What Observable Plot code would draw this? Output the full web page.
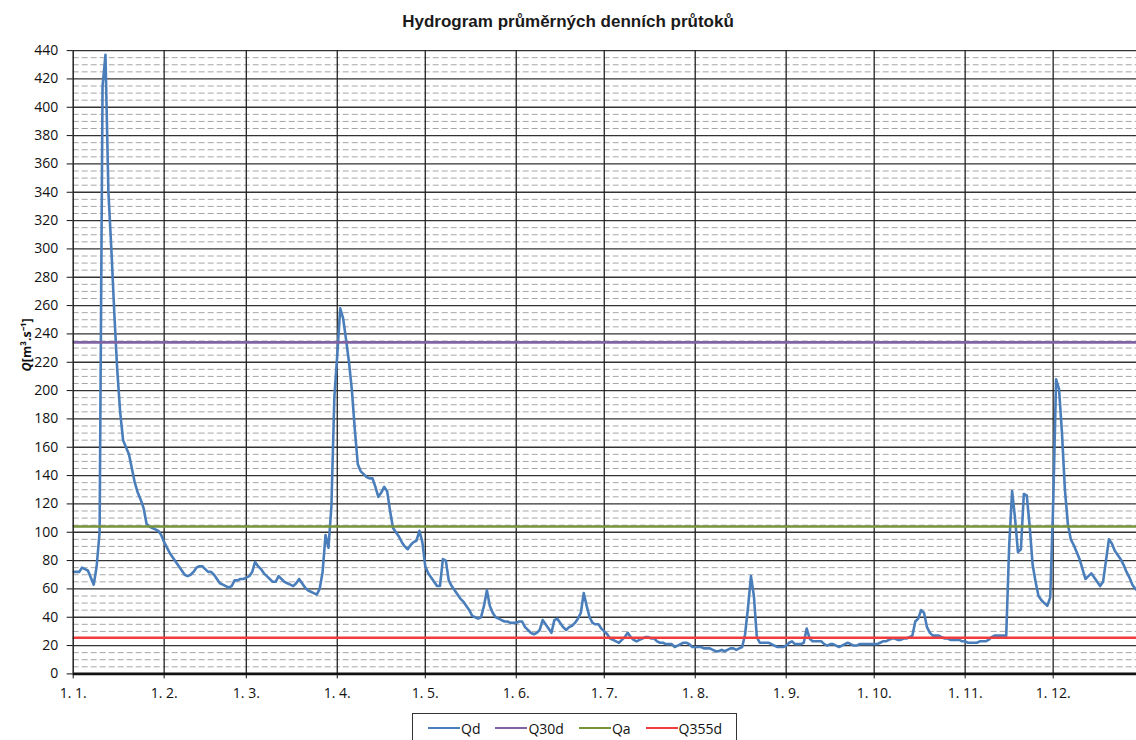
<!DOCTYPE html>
<html>
<head>
<meta charset="utf-8">
<script src="https://cdn.jsdelivr.net/npm/d3@7"></script>
<script src="https://cdn.jsdelivr.net/npm/@observablehq/plot@0.6"></script>
<style>
  html, body { margin: 0; padding: 0; background: #fff; overflow: hidden; }
  #wrap { width: 1136px; }
  #title { height: 40px; box-sizing: border-box; padding-top: 12px; text-align: center;
           font-family: "Liberation Sans", Arial, sans-serif; font-weight: bold; font-size: 17px;
           line-height: 20px; color: #1a1a1a; }
  #chart svg { display: block; }
  #legend { margin: 7px 0 0 412px; width: 325px; height: 30px; box-sizing: border-box;
            border: 1px solid #333; display: flex; align-items: center; padding-left: 15px;
            font-family: "Open Sans", sans-serif; font-size: 14px; color: #111; }
  .item { display: flex; align-items: center; margin-right: 15px; }
  .sw { width: 32px; height: 2.6px; margin-right: 1px; }
</style>
</head>
<body>
<div id="wrap">
  <div id="title">Hydrogram průměrných denních průtoků</div>
  <div id="chart"></div>
  <div id="legend"></div>
</div>
<script>
// ---- data ----
const monthLabels = ["1. 1.", "1. 2.", "1. 3.", "1. 4.", "1. 5.", "1. 6.", "1. 7.", "1. 8.", "1. 9.", "1. 10.", "1. 11.", "1. 12."];
const yTicks = [0, 20, 40, 60, 80, 100, 120, 140, 160, 180, 200, 220, 240, 260, 280, 300, 320, 340, 360, 380, 400, 420, 440];
const seriesNames = ["Qd", "Q30d", "Qa", "Q355d"];
const seriesColors = ["#4a7ebb", "#7f63a2", "#77933c", "#f03c3c"];
const q30d = 234;
const qa = 104;
const q355d = 25.5;
// daily mean discharge Qd, from 1 January
const qd = [
  72, 72, 72, 75, 74, 73, 68, 63, 76, 100,
  415, 437, 340, 300, 255, 215, 185, 165, 160, 155,
  145, 135, 128, 123, 117, 106, 104, 103, 102, 101,
  98, 93, 89, 85, 82, 79, 76, 73, 70, 69,
  70, 72, 75, 76, 76, 74, 72, 72, 70, 67,
  64, 63, 62, 61, 62, 66, 66, 67, 67, 68,
  69, 72, 79, 76, 74, 71, 69, 67, 65, 65,
  69, 67, 65, 64, 63, 62, 64, 67, 64, 61,
  59, 58, 57, 56, 60, 72, 98, 89, 118, 195,
  225, 258, 251, 236, 220, 200, 172, 148, 143, 141,
  139, 138, 138, 132, 125, 128, 132, 129, 115, 103,
  100, 97, 93, 90, 88, 91, 93, 94, 101, 93,
  76, 71, 68, 65, 62, 62, 81, 80, 66, 62,
  59, 56, 53, 51, 48, 45, 41, 40, 39, 40,
  48, 59, 48, 43, 40, 39, 38, 37, 37, 36,
  36, 36, 37, 37, 33, 31, 29, 28, 29, 31,
  38, 35, 32, 29, 38, 39, 36, 33, 31, 33,
  34, 36, 39, 43, 57, 48, 40, 36, 35, 35,
  32, 30, 28, 25, 24, 23, 22, 24, 26, 29,
  26, 24, 23, 24, 25, 26, 26, 25, 25, 23,
  22, 22, 21, 21, 21, 19, 20, 21, 22, 22,
  21, 19, 19, 19, 19, 18, 18, 18, 17, 16,
  16, 17, 16, 17, 18, 18, 17, 18, 19, 28,
  47, 69, 55, 26, 22, 22, 22, 22, 21, 20,
  19, 19, 19, 20, 22, 23, 21, 21, 21, 22,
  32, 25, 23, 23, 23, 23, 21, 20, 21, 21,
  20, 19, 20, 21, 22, 21, 20, 20, 21, 21,
  21, 21, 21, 21, 21, 22, 23, 23, 24, 25,
  25, 24, 24, 25, 25, 26, 27, 37, 39, 45,
  43, 33, 29, 27, 27, 27, 26, 25, 25, 24,
  24, 24, 24, 23, 23, 22, 22, 22, 22, 23,
  23, 23, 24, 26, 27, 27, 27, 27, 27, 90,
  129, 110, 86, 88, 127, 126, 104, 77, 65, 55,
  52, 50, 48, 54, 120, 208, 201, 170, 130, 106,
  95, 91, 86, 81, 74, 67, 69, 71, 68, 65,
  62, 65, 80, 95, 92, 87, 84, 81, 77, 72,
  68, 63, 60, 58, 57
];

// ---- build ----
const YEAR = 2015;
const DAY = 864e5;
const start = Date.UTC(YEAR, 0, 1);
const rows = qd.map((q, i) => ({date: new Date(start + i * DAY), q}));
const monthDates = monthLabels.map((_, m) => new Date(Date.UTC(YEAR, m, 1)));
const xEnd = new Date(start + 362.4 * DAY);
const yMinor = d3.range(0, 441, 5).filter(v => v % 20 !== 0);

const chart = Plot.plot({
  width: 1136,
  height: 666,
  marginLeft: 72.7,
  marginRight: 0,
  marginTop: 10.1,
  marginBottom: 32.6,
  style: {fontFamily: "'Open Sans', sans-serif", fontSize: "14px", color: "#111", background: "transparent", overflow: "visible"},
  x: {type: "utc", domain: [new Date(start), xEnd], ticks: monthDates,
      tickFormat: d => monthLabels[d.getUTCMonth()], tickSize: 5, tickPadding: 9, label: null},
  y: {domain: [0, 440], ticks: yTicks, tickSize: 6, tickPadding: 9, label: null},
  marks: [
    Plot.ruleY(yMinor, {stroke: "#a6a6a6", strokeWidth: 1, strokeDasharray: "6,3"}),
    Plot.ruleY(yTicks.filter(v => v > 0), {stroke: "#333", strokeWidth: 1.3}),
    Plot.ruleX(monthDates.slice(1), {stroke: "#222", strokeWidth: 1.3}),
    Plot.line(rows, {x: "date", y: "q", stroke: seriesColors[0], strokeWidth: 2.6, clip: true}),
    Plot.ruleY([q30d], {stroke: seriesColors[1], strokeWidth: 2.6}),
    Plot.ruleY([qa], {stroke: seriesColors[2], strokeWidth: 2.6}),
    Plot.ruleY([q355d], {stroke: seriesColors[3], strokeWidth: 2.6}),
    Plot.ruleY([0], {stroke: "#111", strokeWidth: 2.6}),
    Plot.ruleX([monthDates[0]], {stroke: "#222", strokeWidth: 1.5}),
    Plot.text(["Q"], {frameAnchor: "left", dx: -46, rotate: -90, text: d => d, textAnchor: "end",
      fontWeight: "bold", fontStyle: "italic", fontSize: 12.5, fill: "#111"}),
    Plot.text(["[m³.s⁻¹]"], {frameAnchor: "left", dx: -46, rotate: -90, text: d => d, textAnchor: "start",
      fontWeight: "bold", fontSize: 12.5, fill: "#111"})
  ]
});
document.getElementById("chart").appendChild(chart);

// legend
const legend = document.getElementById("legend");
seriesNames.forEach((name, i) => {
  const it = document.createElement("div");
  it.className = "item";
  const sw = document.createElement("div");
  sw.className = "sw";
  sw.style.background = seriesColors[i];
  const t = document.createElement("span");
  t.textContent = name;
  it.appendChild(sw);
  it.appendChild(t);
  legend.appendChild(it);
});
</script>
</body>
</html>
